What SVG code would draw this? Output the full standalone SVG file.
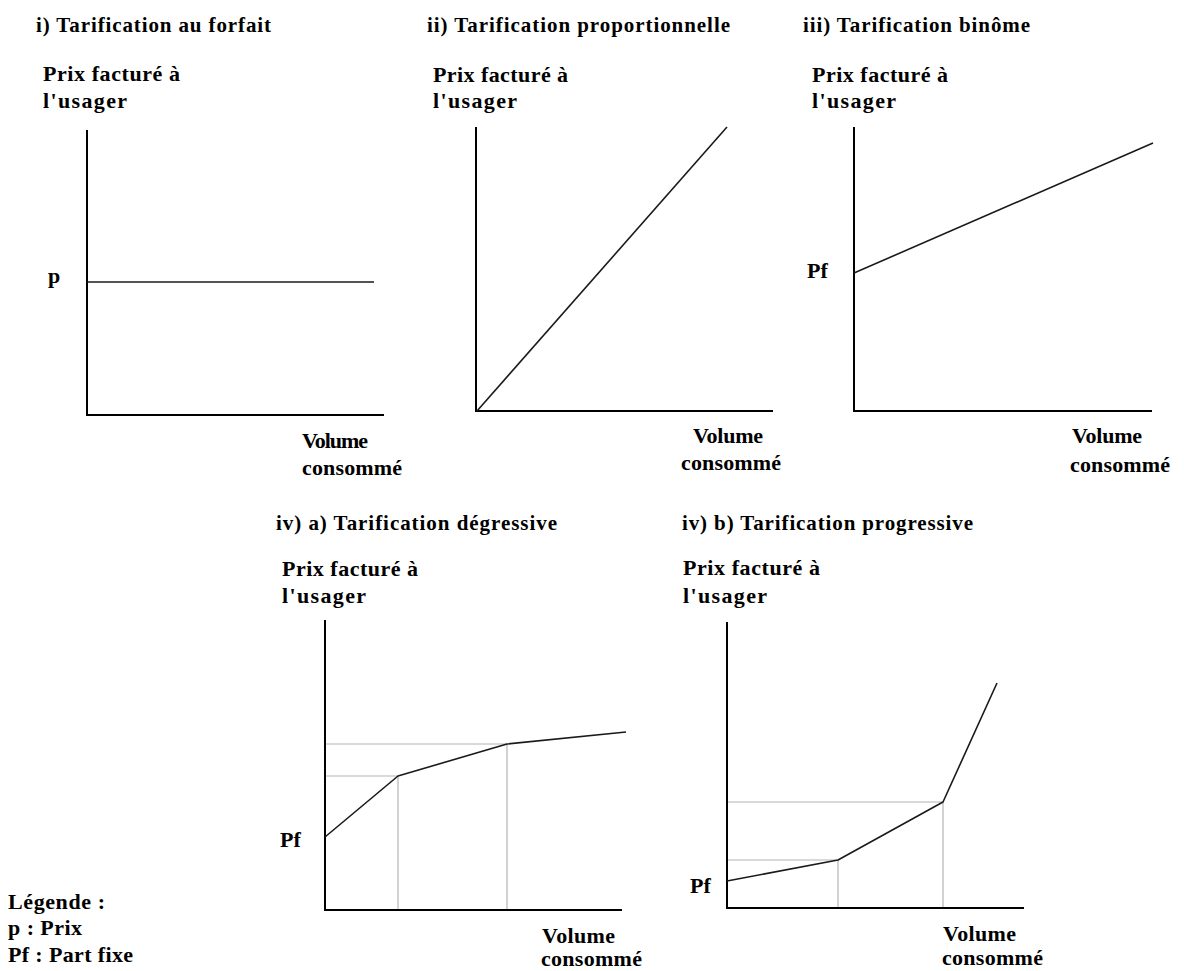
<svg xmlns="http://www.w3.org/2000/svg" width="1184" height="971" viewBox="0 0 1184 971" font-family="Liberation Serif, DejaVu Serif, serif" font-weight="bold">
<style>
.t{font-size:21px;fill:#000}
.l{font-size:22px;fill:#000}
.ax{stroke:#000;stroke-width:2;fill:none}
.cv{stroke:#1a1a1a;stroke-width:1.6;fill:none;stroke-linejoin:round}
.gr{stroke:#b4b4b4;stroke-width:1.2;fill:none}
</style>
<rect width="1184" height="971" fill="#fff"/>

<g id="chart-i">
<text class="t" x="36" y="32" textLength="235">i) Tarification au forfait</text>
<text class="l" x="43" y="81" textLength="137">Prix facturé à</text>
<text class="l" x="43" y="108" textLength="84">l'usager</text>
<polyline class="ax" points="87,130 87,415 384,415"/>
<line class="cv" x1="87" y1="282" x2="374" y2="282"/>
<text class="l" x="48" y="283">p</text>
<text class="l" x="302" y="448" textLength="66">Volume</text>
<text class="l" x="302" y="475" textLength="100">consommé</text>
</g>

<g id="chart-ii">
<text class="t" x="427" y="32" textLength="303">ii) Tarification proportionnelle</text>
<text class="l" x="433" y="82" textLength="135">Prix facturé à</text>
<text class="l" x="433" y="108" textLength="84">l'usager</text>
<polyline class="ax" points="476,127 476,411 773,411"/>
<line class="cv" x1="477" y1="411" x2="727" y2="127"/>
<text class="l" x="693" y="443" textLength="70">Volume</text>
<text class="l" x="681" y="470" textLength="100">consommé</text>
</g>

<g id="chart-iii">
<text class="t" x="803" y="32" textLength="227">iii) Tarification binôme</text>
<text class="l" x="812" y="82" textLength="136">Prix facturé à</text>
<text class="l" x="812" y="108" textLength="84">l'usager</text>
<polyline class="ax" points="854,127 854,411 1152,411"/>
<line class="cv" x1="854" y1="273" x2="1153" y2="143"/>
<text class="l" x="807" y="278">Pf</text>
<text class="l" x="1072" y="443" textLength="70">Volume</text>
<text class="l" x="1070" y="472" textLength="100">consommé</text>
</g>

<g id="chart-iv-a">
<text class="t" x="276" y="530" textLength="281">iv) a) Tarification dégressive</text>
<text class="l" x="282" y="576" textLength="136">Prix facturé à</text>
<text class="l" x="282" y="603" textLength="84">l'usager</text>
<line class="gr" x1="325" y1="776" x2="398" y2="776"/>
<line class="gr" x1="325" y1="744" x2="507" y2="744"/>
<line class="gr" x1="398" y1="776" x2="398" y2="910"/>
<line class="gr" x1="507" y1="744" x2="507" y2="910"/>
<polyline class="ax" points="325,620 325,910 622,910"/>
<polyline class="cv" points="325,837 398,776 507,744 626,732"/>
<text class="l" x="280" y="847">Pf</text>
<text class="l" x="542" y="943" textLength="73">Volume</text>
<text class="l" x="541" y="966" textLength="101">consommé</text>
</g>

<g id="chart-iv-b">
<text class="t" x="682" y="530" textLength="291">iv) b) Tarification progressive</text>
<text class="l" x="683" y="575" textLength="137">Prix facturé à</text>
<text class="l" x="683" y="603" textLength="84">l'usager</text>
<line class="gr" x1="727" y1="860" x2="838" y2="860"/>
<line class="gr" x1="727" y1="802" x2="943" y2="802"/>
<line class="gr" x1="838" y1="860" x2="838" y2="908"/>
<line class="gr" x1="943" y1="802" x2="943" y2="908"/>
<polyline class="ax" points="727,622 727,908 1024,908"/>
<polyline class="cv" points="727,881 838,860 943,802 997,683"/>
<text class="l" x="690" y="893">Pf</text>
<text class="l" x="943" y="941" textLength="73">Volume</text>
<text class="l" x="942" y="965" textLength="101">consommé</text>
</g>

<g id="legend">
<text class="l" x="8" y="909" textLength="97">Légende :</text>
<text class="l" x="8" y="935" textLength="74">p : Prix</text>
<text class="l" x="8" y="962" textLength="125">Pf : Part fixe</text>
</g>
</svg>
